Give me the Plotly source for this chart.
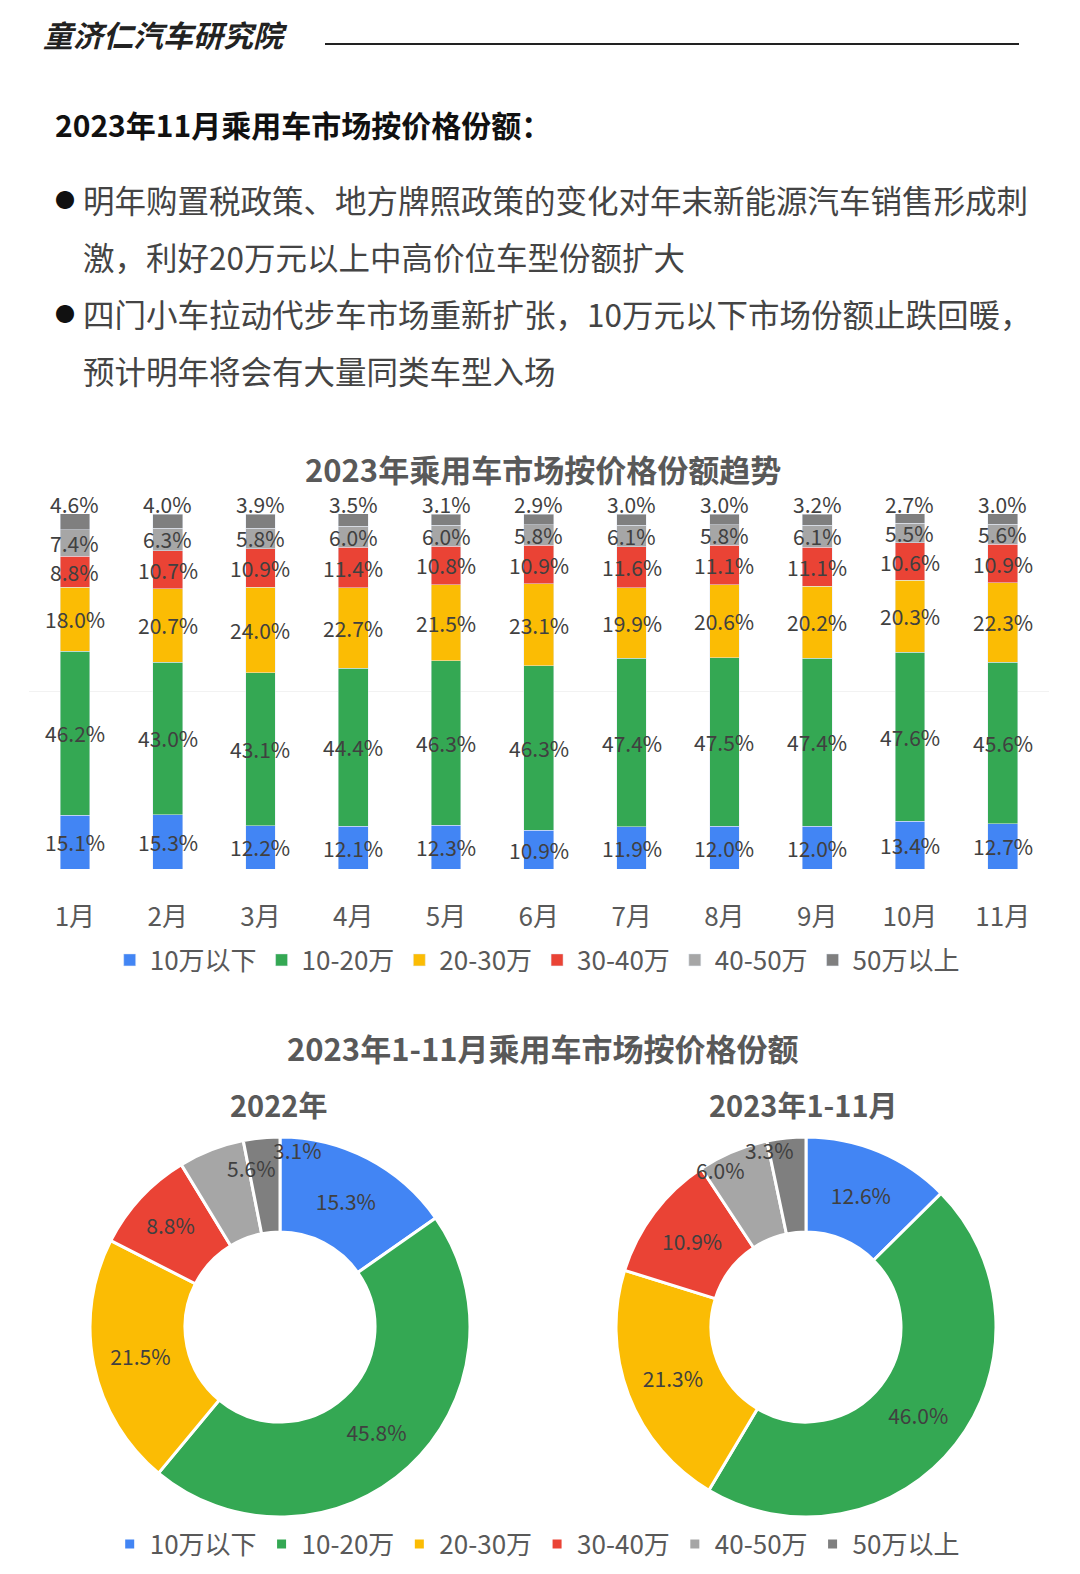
import plotly.graph_objects as go
import numpy as np

W, H = 1080, 1574
FONT = "Noto Sans CJK SC"

months = ["1月", "2月", "3月", "4月", "5月", "6月", "7月", "8月", "9月", "10月", "11月"]
segments = ["10万以下", "10-20万", "20-30万", "30-40万", "40-50万", "50万以上"]
colors = ["#4285F4", "#34A853", "#FBBC04", "#EA4335", "#A6A6A6", "#7F7F7F"]

s_lt10 = [15.1, 15.3, 12.2, 12.1, 12.3, 10.9, 11.9, 12.0, 12.0, 13.4, 12.7]
s_10_20 = [46.2, 43.0, 43.1, 44.4, 46.3, 46.3, 47.4, 47.5, 47.4, 47.6, 45.6]
s_20_30 = [18.0, 20.7, 24.0, 22.7, 21.5, 23.1, 19.9, 20.6, 20.2, 20.3, 22.3]
s_30_40 = [8.8, 10.7, 10.9, 11.4, 10.8, 10.9, 11.6, 11.1, 11.1, 10.6, 10.9]
s_40_50 = [7.4, 6.3, 5.8, 6.0, 6.0, 5.8, 6.1, 5.8, 6.1, 5.5, 5.6]
s_gt50 = [4.6, 4.0, 3.9, 3.5, 3.1, 2.9, 3.0, 3.0, 3.2, 2.7, 3.0]

pie_2022 = [15.3, 45.8, 21.5, 8.8, 5.6, 3.1]
pie_2023 = [12.6, 46.0, 21.3, 10.9, 6.0, 3.3]


def py(p):
    return 1 - (p - 4) / H


series = [s_lt10, s_10_20, s_20_30, s_30_40, s_40_50, s_gt50]
LBL = dict(size=21, color="#404040", family=FONT)

fig = go.Figure()
for name, vals, c in zip(segments, series, colors):
    fig.add_trace(go.Bar(x=months, y=vals, name=name, marker_color=c,
                         legend="legend", hoverinfo="skip"))

# bar labels from cumulative data
annos = []
cum = np.zeros(len(months))
for k, vals in enumerate(series):
    v = np.array(vals)
    for i, m in enumerate(months):
        if k == len(series) - 1:
            y, ys = min(cum[i] + v[i], 100), 10
        else:
            y, ys = cum[i] + v[i] / 2, 0
        annos.append(dict(x=m, y=y, yshift=ys, xref="x", yref="y", text=f"{v[i]:.1f}%",
                          showarrow=False, font=LBL))
    cum += v

pies = [(pie_2022, 277), (pie_2023, 803)]
CY, R = 1323, 190
for vals, cx in pies:
    dom = [(cx - R - 5) / W, (cx + R - 5) / W]
    fig.add_trace(go.Pie(labels=segments, values=vals, hole=0.5, sort=False,
                         direction="clockwise", rotation=0,
                         marker=dict(colors=colors, line=dict(color="white", width=3)),
                         texttemplate=["%{value:.1f}%"] * 4 + [""] * 2,
                         textposition="inside",
                         insidetextorientation="horizontal",
                         textfont=LBL,
                         domain=dict(x=dom, y=[py(CY + R), py(CY - R)]),
                         legend="legend2", hoverinfo="skip"))
    # labels for the two thin slices, placed from slice angles
    tot = sum(vals)
    start = sum(vals[:4])
    for j, off in [(4, 0.80), (5, 0.90)]:
        mid = (start + vals[j] / 2) / tot * 2 * np.pi
        start += vals[j]
        x = cx - 5 + off * R * np.sin(mid) + (0 if j == 4 else 8)
        y = CY - off * R * np.cos(mid) + (0 if j == 4 else 10)
        annos.append(dict(x=x / W, y=py(y), xref="paper", yref="paper",
                          text=f"{vals[j]:.1f}%", showarrow=False, font=LBL))


def txt(x, y, text, size, color="#333333", anchor="left", bold=False):
    if bold:
        text = f"<b>{text}</b>"
    annos.append(dict(x=(x - 5) / W, y=py(y), xref="paper", yref="paper", text=text,
                      xanchor=anchor, yanchor="middle", showarrow=False,
                      font=dict(size=size, color=color, family=FONT)))


txt(38, 30, "<i>童济仁汽车研究院</i>", 30, "#222222", bold=True)
txt(50, 120, "2023年11月乘用车市场按价格份额：", 30, "#111111", bold=True)
txt(50, 195, "●", 20, "#111111")
txt(78, 195, "明年购置税政策、地方牌照政策的变化对年末新能源汽车销售形成刺", 31.5, "#444444")
txt(78, 252, "激，利好20万元以上中高价位车型份额扩大", 31.5, "#444444")
txt(50, 309, "●", 20, "#111111")
txt(78, 309, "四门小车拉动代步车市场重新扩张，10万元以下市场份额止跌回暖，", 31.5, "#444444")
txt(78, 366, "预计明年将会有大量同类车型入场", 31.5, "#444444")
txt(540, 464, "2023年乘用车市场按价格份额趋势", 31, "#595959", "center", True)
txt(540, 1043, "2023年1-11月乘用车市场按价格份额", 31, "#595959", "center", True)
txt(275, 1100, "2022年", 29, "#595959", "center", True)
txt(800, 1100, "2023年1-11月", 29, "#595959", "center", True)

fig.update_layout(
    width=W, height=H, margin=dict(l=0, r=0, t=0, b=0),
    paper_bgcolor="white", plot_bgcolor="white",
    font=dict(family=FONT),
    barmode="stack", bargap=0.68,
    xaxis=dict(domain=[0.019, 0.964], anchor="y", showline=False,
               tickfont=dict(size=26, color="#595959"), ticklabelstandoff=30),
    yaxis=dict(domain=[py(865), py(510)], range=[0, 100], showticklabels=False,
               showgrid=True, gridcolor="#f2f2f2", dtick=50, zeroline=False),
    annotations=annos,
    shapes=[dict(type="line", xref="paper", yref="paper", x0=317 / W, x1=1011 / W,
                 y0=py(40), y1=py(40), line=dict(color="#222222", width=2))],
    legend=dict(orientation="h", x=0.49, xanchor="center", y=py(956), yanchor="middle",
                font=dict(size=26, color="#595959"), itemwidth=30, traceorder="normal"),
    legend2=dict(orientation="h", x=0.49, xanchor="center", y=py(1540), yanchor="middle",
                 font=dict(size=26, color="#595959"), itemwidth=30, traceorder="normal"),
)

fig.write_html("out.html")
